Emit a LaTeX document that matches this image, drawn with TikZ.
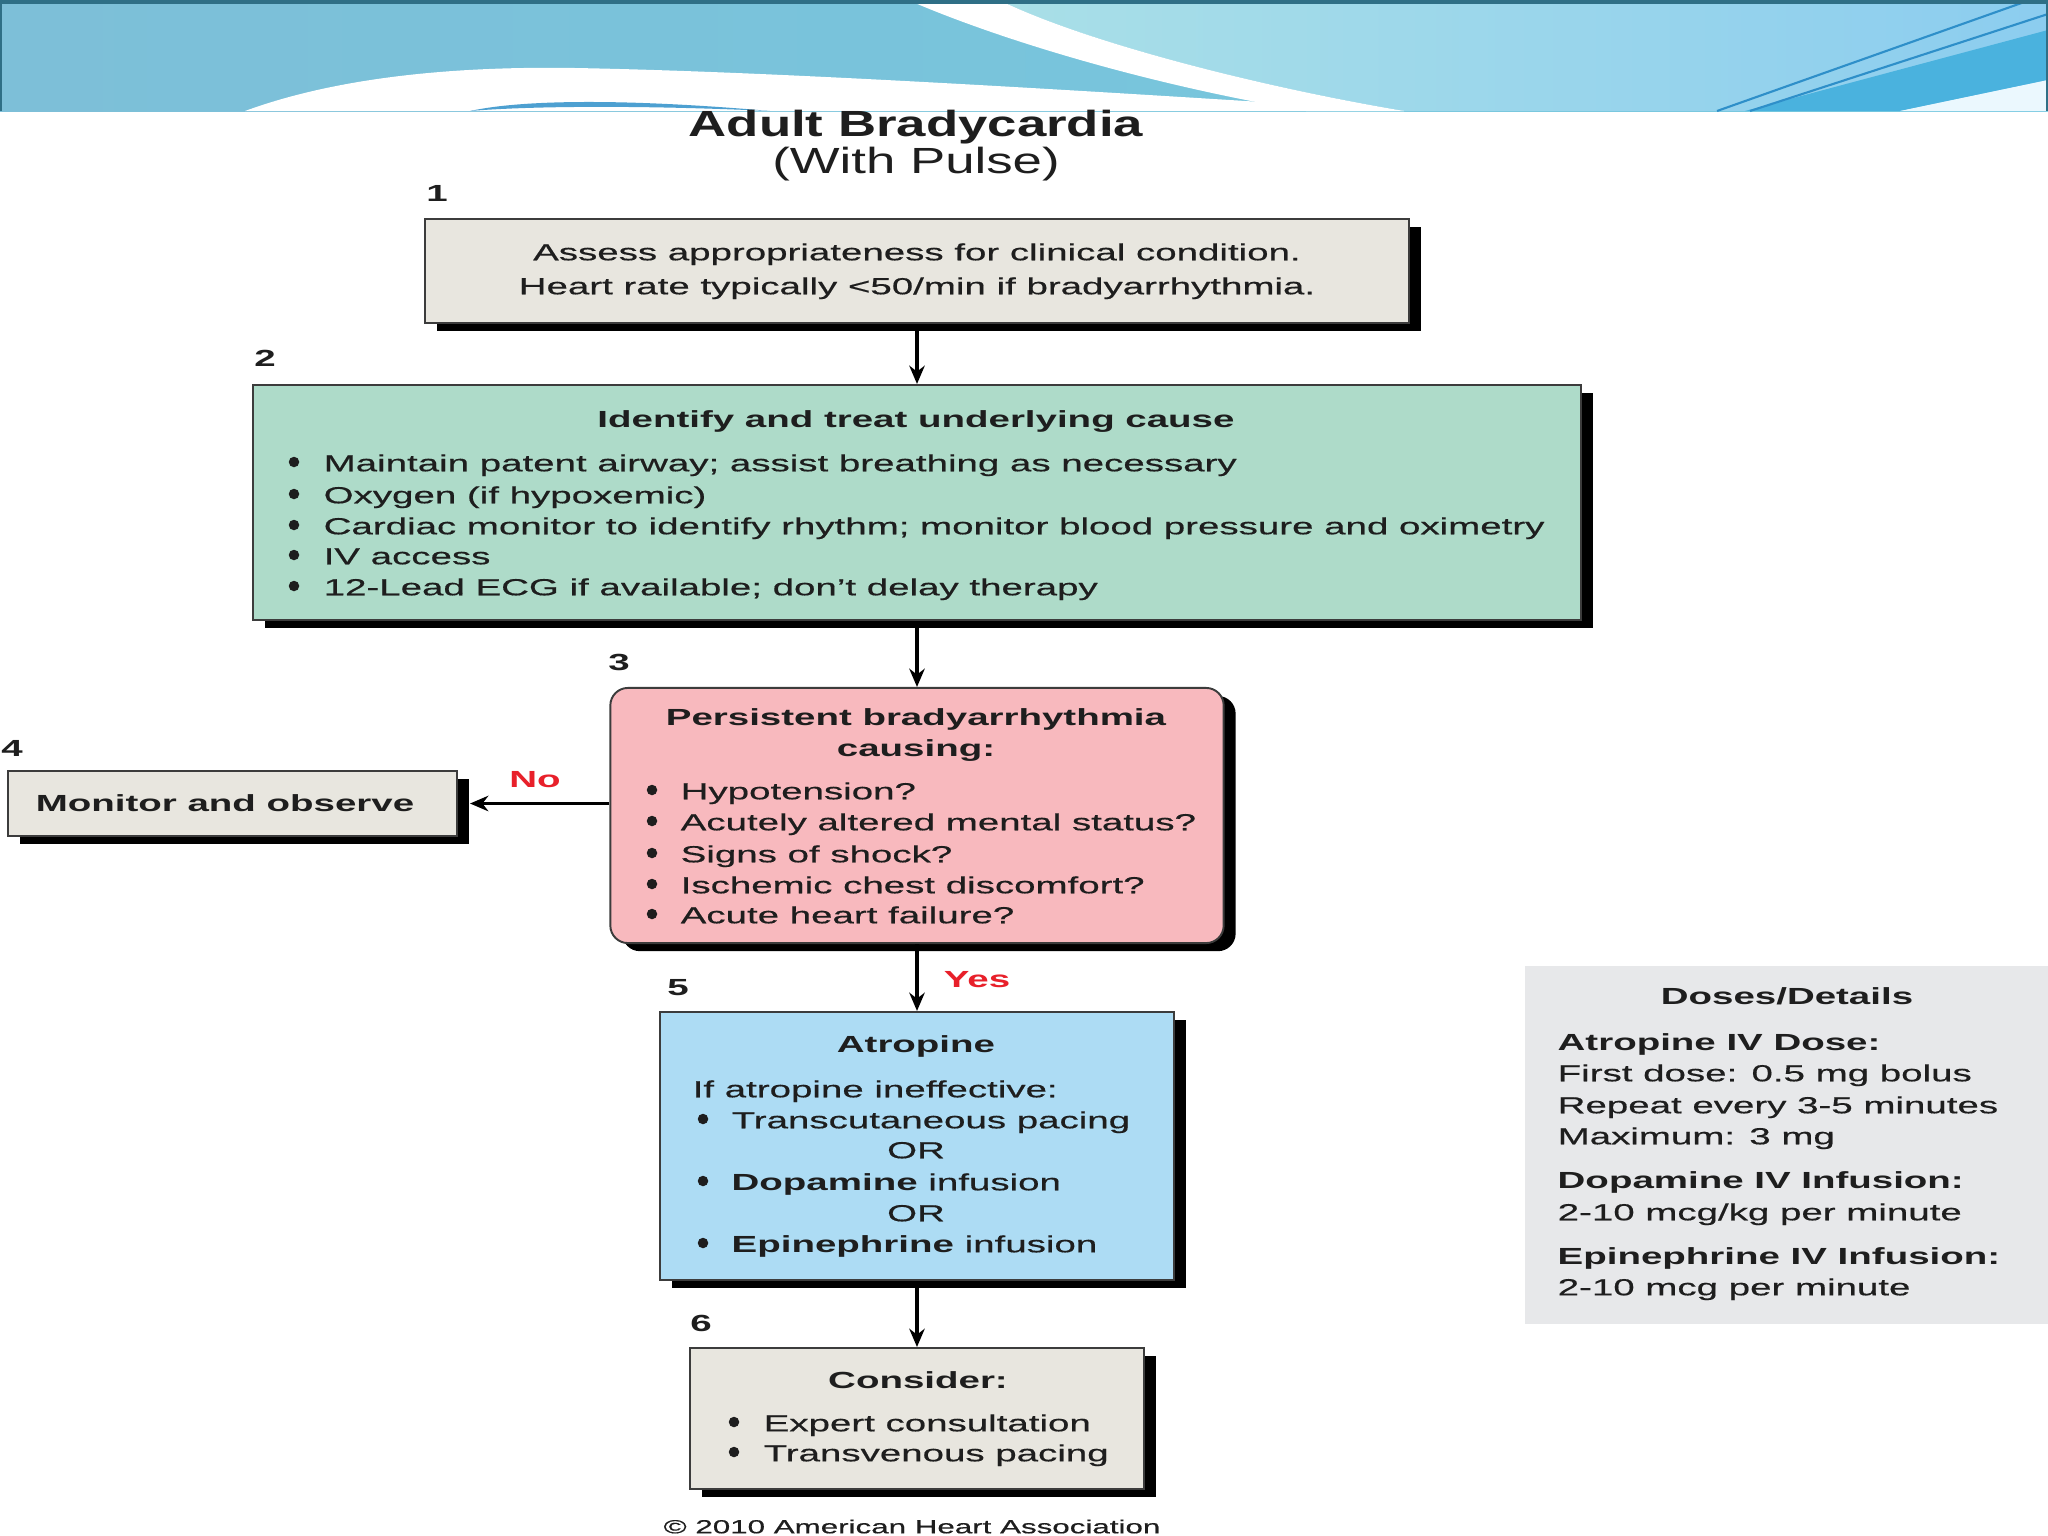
\documentclass[tikz,border=0pt]{standalone}
\usepackage{fontspec}
\setmainfont{Liberation Sans}[FakeStretch=1.65, UprightFeatures={FakeBold=0.5}]
\newfontfamily\titlefont{Liberation Sans}[FakeStretch=1.45]
\usetikzlibrary{arrows.meta,shadows}

\definecolor{boxgray}{HTML}{E8E6DF}
\definecolor{boxteal}{HTML}{AEDBC9}
\definecolor{boxpink}{HTML}{F8B9BE}
\definecolor{boxblue}{HTML}{ADDCF4}
\definecolor{dosegray}{HTML}{E7E8EA}
\definecolor{edgecol}{HTML}{3C3C3C}
\definecolor{txtcol}{HTML}{1E1E1E}
\definecolor{noyes}{HTML}{E8202A}
\definecolor{bannerL}{HTML}{7DBFD8}
\definecolor{bannerM}{HTML}{74C9DF}
\definecolor{cyanL}{HTML}{A9DFE7}
\definecolor{cyanR}{HTML}{8CCDEF}
\definecolor{topdark}{HTML}{2F6F86}
\definecolor{linecol}{HTML}{2E8FC9}
\definecolor{wedgecol}{HTML}{4AB2DE}

\newcommand\fsbase{\fontsize{6.63pt}{8pt}\selectfont}
\newcommand\fstitle{\titlefont\fontsize{10.35pt}{12pt}\selectfont}
\newcommand\fscopy{\fontsize{5.4pt}{6.5pt}\selectfont}

\begin{document}
\begin{tikzpicture}[x=0.01cm,y=-0.01cm,
  boxbase/.style={draw=edgecol, line width=0.55pt, inner sep=0,
    drop shadow={shadow xshift=3.4pt, shadow yshift=-2.3pt, fill=black, opacity=1}},
  t/.style={inner sep=0, text=txtcol, font=\fsbase},
  tl/.style={t, anchor=mid west},
  tc/.style={t, anchor=mid},
  tb/.style={t, anchor=mid, font=\fsbase\bfseries},
  bul/.style={circle, fill=txtcol, inner sep=0, minimum size=0.105cm},
  num/.style={t, anchor=mid, font=\fsbase\bfseries},
  lab/.style={inner sep=0, anchor=mid, text=noyes, font=\fsbase\bfseries},
  arr/.style={draw=black, line width=1pt, -{Stealth[length=5.2pt,width=4.4pt]}},
]
\useasboundingbox (0,0) rectangle (2048,1536);
\fill[white] (0,0) rectangle (2048,1536);

% ---- banner ----
\shade[left color=bannerL, right color=bannerM] (0,0) rectangle (2048,111);
\shade[left color=cyanL, right color=cyanR] (999,0) .. controls (1080,40) and (1250,85) .. (1404,111) -- (2048,111) -- (2048,0) -- cycle;
\fill[white] (908,0) .. controls (1000,40) and (1150,85) .. (1306,111) -- (1404,111) .. controls (1250,85) and (1080,40) .. (999,0) -- cycle;
\fill[white] (245,111) .. controls (335,78) and (450,66) .. (575,68) .. controls (800,72) and (1150,95) .. (1404,111) -- cycle;
\fill[linecol!85!white] (470,111) .. controls (520,100) and (620,98) .. (770,111) .. controls (640,105) and (530,106) .. (470,111) -- cycle;
\fill[wedgecol] (1745,111) -- (2048,30) -- (2048,80) -- (1900,111) -- cycle;
\fill[white!92!cyan] (1900,111) -- (2048,80) -- (2048,111) -- cycle;
\draw[linecol, line width=0.6pt] (1717,111) -- (2030,0);
\draw[linecol, line width=0.6pt] (1750,111) -- (2048,14);
\fill[topdark] (0,0) rectangle (2048,4);
\fill[topdark] (0,0) rectangle (2,111);
\fill[topdark] (2046,0) rectangle (2048,111);

% ---- title ----
\node[inner sep=0, anchor=mid, font=\fstitle\bfseries, text=txtcol] (title) at (916,127) {Adult Bradycardia};
\node[inner sep=0, anchor=mid, font=\fstitle, text=txtcol] (subtitle) at (916,164) {(With Pulse)};

% ---- boxes ----
\node[boxbase, fill=boxgray, minimum width=9.84cm, minimum height=1.04cm] (b1) at (917,271) {};
\node[boxbase, fill=boxteal, minimum width=13.28cm, minimum height=2.35cm] (b2) at (917,502.5) {};
\node[boxbase, fill=boxpink, rounded corners=5pt, minimum width=6.13cm, minimum height=2.55cm] (b3) at (917,815.5) {};
\node[boxbase, fill=boxgray, minimum width=4.49cm, minimum height=0.65cm] (b4) at (232.5,803.5) {};
\node[boxbase, fill=boxblue, minimum width=5.14cm, minimum height=2.68cm] (b5) at (917,1146) {};
\node[boxbase, fill=boxgray, minimum width=4.53cm, minimum height=1.41cm] (b6) at (917,1418.5) {};
\node[fill=dosegray, inner sep=0, minimum width=5.23cm, minimum height=3.58cm] (doses) at (1786.5,1145) {};

% ---- numbers ----
\node[num] (n1) at (437,192) {1};
\node[num] (n2) at (265,357) {2};
\node[num] (n3) at (619,661) {3};
\node[num] (n4) at (12,747) {4};
\node[num] (n5) at (678,986) {5};
\node[num] (n6) at (701,1322) {6};

% ---- box 1 ----
\node[tc] (b1a) at (917,251) {Assess appropriateness for clinical condition.};
\node[tc] (b1b) at (917,285) {Heart rate typically <50/min if bradyarrhythmia.};

% ---- box 2 ----
\node[tb] (b2t) at (916,418) {Identify and treat underlying cause};
\foreach \yy/\txt [count=\i] in {462/{Maintain patent airway; assist breathing as necessary},
  494/{Oxygen (if hypoxemic)},
  525/{Cardiac monitor to identify rhythm; monitor blood pressure and oximetry},
  555/{IV access},
  586/{12-Lead ECG if available; don’t delay therapy}}{
  \node[bul] (b2d\i) at (294,\yy) {};
  \node[tl] (b2l\i) at (323,\yy) {\txt};
}

% ---- box 3 ----
\node[tb] (b3t1) at (916,716) {Persistent bradyarrhythmia};
\node[tb] (b3t2) at (916,747) {causing:};
\foreach \yy/\txt [count=\i] in {790/{Hypotension?},
  821/{Acutely altered mental status?},
  853/{Signs of shock?},
  884/{Ischemic chest discomfort?},
  914/{Acute heart failure?}}{
  \node[bul] (b3d\i) at (652,\yy) {};
  \node[tl] (b3l\i) at (680,\yy) {\txt};
}

% ---- box 4 ----
\node[tb] (b4t) at (225,802) {Monitor and observe};

% ---- box 5 ----
\node[tb] (b5t) at (916,1043) {Atropine};
\node[tl] (b5a) at (692,1088) {If atropine ineffective:};
\node[bul] (b5d1) at (703,1119) {};
\node[tl] (b5l1) at (731,1119) {Transcutaneous pacing};
\node[tc] (b5o1) at (916,1149) {OR};
\node[bul] (b5d2) at (703,1181) {};
\node[tl] (b5l2) at (731,1181) {\textbf{Dopamine} infusion};
\node[tc] (b5o2) at (916,1212) {OR};
\node[bul] (b5d3) at (703,1243) {};
\node[tl] (b5l3) at (731,1243) {\textbf{Epinephrine} infusion};

% ---- box 6 ----
\node[tb] (b6t) at (918,1379) {Consider:};
\node[bul] (b6d1) at (734,1422) {};
\node[tl] (b6l1) at (763,1422) {Expert consultation};
\node[bul] (b6d2) at (734,1452) {};
\node[tl] (b6l2) at (763,1452) {Transvenous pacing};

% ---- doses ----
\node[tb] (dt) at (1787,995) {Doses/Details};
\node[tl, font=\fsbase\bfseries] (d1) at (1557,1041) {Atropine IV Dose:};
\node[tl] (d2) at (1557,1072) {First dose: 0.5 mg bolus};
\node[tl] (d3) at (1557,1104) {Repeat every 3-5 minutes};
\node[tl] (d4) at (1557,1135) {Maximum: 3 mg};
\node[tl, font=\fsbase\bfseries] (d5) at (1557,1179) {Dopamine IV Infusion:};
\node[tl] (d6) at (1557,1211) {2-10 mcg/kg per minute};
\node[tl, font=\fsbase\bfseries] (d7) at (1557,1255) {Epinephrine IV Infusion:};
\node[tl] (d8) at (1557,1286) {2-10 mcg per minute};

% ---- copyright ----
\node[inner sep=0, anchor=mid, font=\fscopy, text=txtcol] (copy) at (912,1524) {© 2010 American Heart Association};

% ---- connectors ----
\draw[arr] (b1.south) -- (b2.north);
\draw[arr] (b2.south) -- (b3.north);
\draw[arr] (b3.south) -- (b5.north);
\draw[arr] (b5.south) -- (b6.north);
\draw[arr] (b3.west |- b4.east) -- ([xshift=3.4pt]b4.east);
\node[lab] (no) at (535,778) {No};
\node[lab] (yes) at (977,978) {Yes};
\end{tikzpicture}
\end{document}
